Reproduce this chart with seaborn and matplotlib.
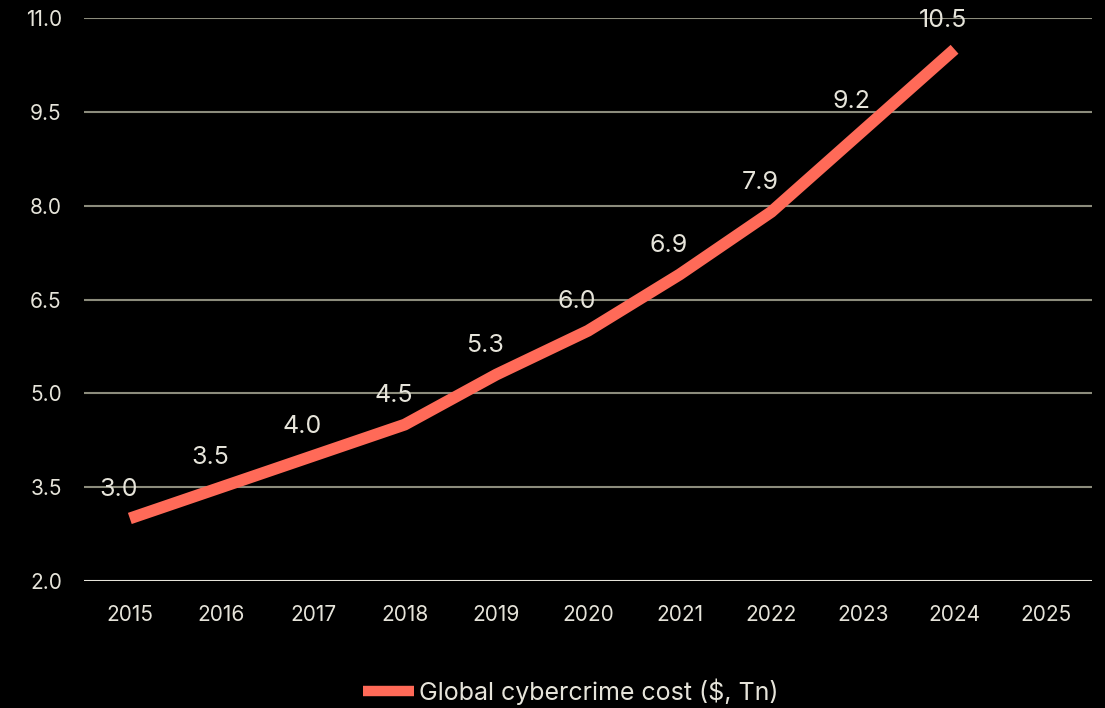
import matplotlib
matplotlib.use("Agg")
import matplotlib.pyplot as plt
import seaborn as sns
import pandas as pd

years = ["2015", "2016", "2017", "2018", "2019", "2020", "2021", "2022", "2023", "2024", "2025"]
cost = [3.0, 3.5, 4.0, 4.5, 5.3, 6.0, 6.9, 7.9, 9.2, 10.5, None]
yticks = [2.0, 3.5, 5.0, 6.5, 8.0, 9.5, 11.0]
series_name = "Global cybercrime cost ($, Tn)"

sns.set_theme(style="dark")
plt.rcParams["font.family"] = ["Inter", "DejaVu Sans"]

bg = "#000000"
txt = "#e6e4da"
grid_c = "#8c8c7c"
line_c = "#ff6a58"

df = pd.DataFrame({"year": years, "cost": cost})
df["x"] = range(len(years))

fig = plt.figure(figsize=(11.05, 7.08), dpi=100, facecolor=bg)
ax = fig.add_axes([84 / 1105, 1 - 581 / 708, 1008 / 1105, (581 - 18) / 708])
ax.set_facecolor(bg)

for y in yticks[1:]:
    ax.axhline(y, color=grid_c, lw=1.5, zorder=0)
ax.axhline(yticks[0], color=txt, lw=1.5, zorder=0)

d = df.dropna()
sns.lineplot(data=d, x="x", y="cost", ax=ax, color=line_c, lw=8.5,
             solid_capstyle="butt", label=series_name, zorder=3)

for xi, v in zip(d["x"], d["cost"]):
    ax.annotate(f"{v:.1f}", (xi, v), xytext=(-8, 21), textcoords="offset points",
                ha="center", va="center", color=txt, fontsize=18, zorder=4)

ax.set_xlim(-0.5, len(years) - 0.5)
ax.set_ylim(2.0, 11.0)
ax.set_xticks(range(len(years)))
ax.set_xticklabels(years)
ax.set_yticks(yticks)
ax.set_yticklabels([f"{t:.1f}" for t in yticks])
ax.tick_params(axis="both", colors=txt, labelsize=15, length=0)
ax.tick_params(axis="x", pad=17)
ax.tick_params(axis="y", pad=16)
for lab in ax.get_yticklabels() + ax.get_xticklabels():
    lab.set_color(txt)
ax.set_xlabel("")
ax.set_ylabel("")
ax.grid(False)
for s in ax.spines.values():
    s.set_visible(False)

leg = ax.legend(loc="center", bbox_to_anchor=(0.4826, -0.197), frameon=False,
                fontsize=18, handlelength=2.05, handletextpad=0.2)
for t in leg.get_texts():
    t.set_color(txt)
for h in leg.get_lines():
    h.set_linewidth(7.5)

fig.savefig("out.png", dpi=100, facecolor=bg)
